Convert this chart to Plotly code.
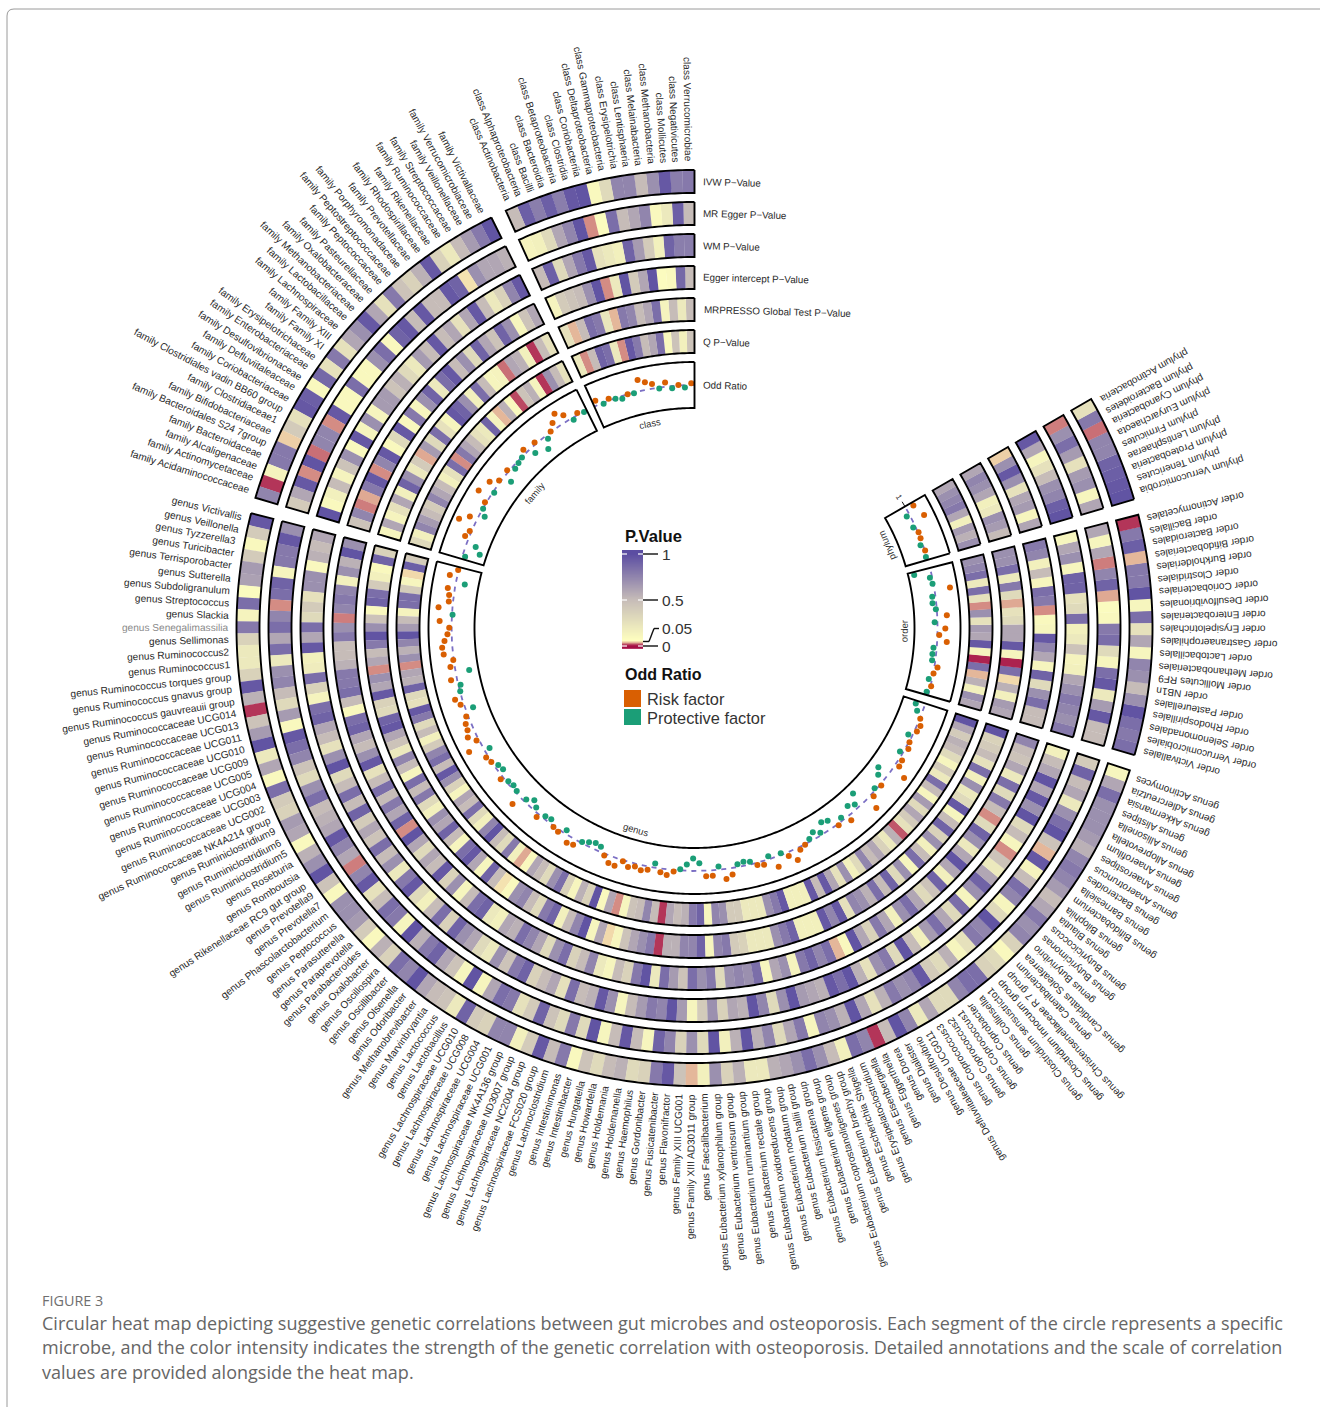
import math
import numpy as np
import plotly.graph_objects as go

W, H = 1320, 1407
CX, CY = 694.5, 628.0
RMAX = 480.0

# ---------- labels ----------
class_names = ["Verrucomicrobiae","Negativicutes","Mollicutes","Methanobacteria","Melainabacteria","Lentisphaeria","Erysipelotrichia","Gammaproteobacteria","Deltaproteobacteria","Coriobacteriia","Clostridia","Betaproteobacteria","Bacteroidia","Bacilli","Alphaproteobacteria","Actinobacteria"]
family_names = ["Victivallaceae","Verrucomicrobiaceae","Veillonellaceae","Streptococcaceae","Ruminococcaceae","Rikenellaceae","Rhodospirillaceae","Prevotellaceae","Porphyromonadaceae","Peptostreptococcaceae","Peptococcaceae","Pasteurellaceae","Oxalobacteraceae","Methanobacteriaceae","Lactobacillaceae","Lachnospiraceae","Family XIII","Family XI","Erysipelotrichaceae","Enterobacteriaceae","Desulfovibrionaceae","Defluviitaleaceae","Coriobacteriaceae","Clostridiales vadin BB60 group","Clostridiaceae1","Bifidobacteriaceae","Bacteroidales S24 7group","Bacteroidaceae","Alcaligenaceae","Actinomycetaceae","Acidaminococcaceae"]
genus_names = ["Victivallis","Veillonella","Tyzzerella3","Turicibacter","Terrisporobacter","Sutterella","Subdoligranulum","Streptococcus","Slackia","Senegalimassilia","Sellimonas","Ruminococcus2","Ruminococcus1","Ruminococcus torques group","Ruminococcus gnavus group","Ruminococcus gauvreauii group","Ruminococcaceae UCG014","Ruminococcaceae UCG013","Ruminococcaceae UCG011","Ruminococcaceae UCG010","Ruminococcaceae UCG009","Ruminococcaceae UCG005","Ruminococcaceae UCG004","Ruminococcaceae UCG003","Ruminococcaceae UCG002","Ruminococcaceae NK4A214 group","Ruminiclostridium9","Ruminiclostridium6","Ruminiclostridium5","Roseburia","Romboutsia","Rikenellaceae RC9 gut group","Prevotella9","Prevotella7","Phascolarctobacterium","Peptococcus","Parasutterella","Paraprevotella","Parabacteroides","Oxalobacter","Oscillospira","Oscillibacter","Olsenella","Odoribacter","Methanobrevibacter","Marvinbryantia","Lactococcus","Lactobacillus","Lachnospiraceae UCG010","Lachnospiraceae UCG008","Lachnospiraceae UCG004","Lachnospiraceae UCG001","Lachnospiraceae NK4A136 group","Lachnospiraceae ND3007 group","Lachnospiraceae NC2004 group","Lachnospiraceae FCS020 group","Lachnoclostridium","Intestinimonas","Intestinibacter","Hungatella","Howardella","Holdemania","Holdemanella","Haemophilus","Gordonibacter","Fusicatenibacter","Flavonifractor","Family XIII UCG001","Family XIII AD3011 group","Faecalibacterium","Eubacterium xylanophilum group","Eubacterium ventriosum group","Eubacterium ruminantium group","Eubacterium rectale group","Eubacterium oxidoreducens group","Eubacterium nodatum group","Eubacterium hallii group","Eubacterium fissicatena group","Eubacterium eligens group","Eubacterium coprostanoligenes group","Eubacterium brachy group","Escherichia Shigella","Erysipelatoclostridium","Eisenbergiella","Eggerthella","Dorea","Dialister","Desulfovibrio","Defluviitaleaceae UCG011","Coprococcus3","Coprococcus2","Coprococcus1","Coprobacter","Collinsella","Clostridium sensustricto1","Clostridium innocuum group","Christensenellaceae R 7 group","Catenibacterium","Candidatus Soleaferrea","Butyrivibrio","Butyricimonas","Butyricicoccus","Blautia","Bilophila","Bifidobacterium","Barnesiella","Bacteroides","Anaerotruncus","Anaerostipes","Anaerofilum","Alloprevotella","Allisonella","Alistipes","Akkermansia","Adlercreutzia","Actinomyces"]
order_names = ["Victivallales","Verrucomicrobiales","Selenomonadales","Rhodospirillales","Pasteurellales","NB1n","Mollicutes RF9","Methanobacteriales","Lactobacillales","Gastranaerophilales","Erysipelotrichales","Enterobacteriales","Desulfovibrionales","Coriobacteriales","Clostridiales","Burkholderiales","Bifidobacteriales","Bacteroidales","Bacillales","Actinomycetales"]
phylum_names = ["Verrucomicrobia","Tenericutes","Proteobacteria","Lentisphaerae","Firmicutes","Euryarchaeota","Cyanobacteria","Bacteroidetes","Actinobacteria"]

# ---------- P values, one list per track and taxon level ----------
ivw_class = [.8,.78,.95,.7,.5,.75,.75,.3,.1,.97,.95,.78,.92,.78,.92,.5]
egger_class = [.5,.92,.2,.1,.75,.6,.5,.85,.08,.026,.97,.75,.6,.3,.15,.13]
wm_class = [.78,.78,.9,.15,.4,.65,.9,.15,.2,.25,.95,.8,.6,.3,.92,.5]
eint_class = [.5,.88,.1,.08,.97,.6,.4,.97,.2,.026,.97,.7,.5,.45,.4,.13]
mrp_class = [.5,.2,.5,.13,.85,.6,.5,.75,.8,.035,.22,.8,.85,.5,.035,.25]
q_class = [.45,.15,.45,.1,.85,.6,.5,.8,.95,.026,.2,.85,.9,.5,.026,.2]

ivw_family = [.97,.8,.65,.5,.2,.35,.95,.55,.35,.45,.8,.25,.6,.95,.7,.6,.25,.8,.25,.88,.1,.92,.95,.25,.4,.04,.8,.8,.13,.008,.75]
egger_family = [.55,.6,.6,.7,.044,.9,.95,.5,.5,.95,.5,.95,.9,.1,.85,.7,.1,.1,.85,.1,.1,.95,.026,.75,.75,.02,.97,.026,.95,.6,.4]
wm_family = [.95,.75,.35,.2,.5,.95,.6,.25,.6,.5,.95,.5,.65,.2,.3,.55,.45,.65,.65,.12,.7,.12,.95,.1,.7,.45,.13,.5,.15,.1,.97]
eint_family = [.6,.45,.12,.7,.9,.45,.6,.9,.3,.7,.5,.95,.85,.2,.9,.7,.12,.8,.1,.95,.3,.1,.95,.75,.026,.95,.8,.032,.023,.75,.45]
mrp_family = [.25,.5,.008,.15,.55,.6,.02,.13,.12,.5,.85,.15,.7,.9,.95,.12,.25,.85,.3,.65,.032,.4,.2,.7,.9,.15,.6,.25,.13,.6,.12]
q_family = [.25,.5,.7,.008,.13,.55,.45,.012,.1,.55,.035,.13,.9,.2,.25,.5,.6,.8,.026,.85,.25,.15,.5,.6,.75,.4,.5,.65,.75,.15,.3]

ivw_genus = [.95,.4,.1,.4,.65,.62,.08,.85,.13,.8,.35,.2,.2,.35,.95,.55,.008,.45,.65,.97,.2,.6,.1,.85,.4,.35,.65,.6,.1,.55,
             .7,.97,.45,.1,.7,.7,.65,.4,.1,.55,.35,.85,.75,.97,.6,.5,.45,.2,.9,.4,.35,.75,.75,.15,.4,.95,.5,.8,.1,.45,
             .3,.5,.55,.3,.35,.8,.95,.45,.035,.15,.7,.35,.55,.2,.2,.55,.6,.7,.85,.7,.5,.15,.85,.75,.008,.5,.97,.75,.2,.6,
             .3,.3,.75,.85,.85,.35,.3,.1,.35,.75,.7,.8,.6,.5,.65,.75,.8,.75,.55,.65,.7,.7,.7,.85,.6,.12]
egger_genus = [.7,.95,.8,.8,.12,.9,.85,.026,.75,.85,.6,.85,.2,.7,.75,.5,.3,.65,.1,.95,.85,.75,.45,.3,.7,.85,.5,.55,.6,.95,
               .75,.6,.023,.75,.95,.25,.5,.85,.8,.12,.97,.55,.8,.9,.6,.45,.12,.97,.12,.6,.85,.8,.25,.4,.9,.45,.3,.8,.3,.97,
               .12,.5,.95,.5,.12,.9,.75,.35,.7,.3,.97,.15,.55,.97,.55,.75,.3,.6,.8,.12,.75,.7,.55,.97,.6,.25,.55,.8,.7,.75,
               .95,.4,.3,.55,.12,.25,.8,.75,.97,.3,.12,.75,.85,.5,.13,.95,.035,.45,.97,.85,.7,.2,.6,.5,.9,.4]
wm_genus = [.6,.5,.55,.1,.7,.7,.25,.4,.3,.85,.6,.95,.15,.18,.85,.35,.13,.85,.9,.6,.5,.25,.7,.97,.3,.5,.85,.5,.9,.4,
            .6,.45,.85,.5,.7,.2,.8,.95,.3,.15,.5,.85,.35,.9,.7,.6,.3,.2,.7,.45,.8,.9,.35,.5,.6,.25,.85,.5,.55,.95,
            .7,.12,.5,.65,.8,.75,.97,.65,.12,.4,.7,.35,.6,.55,.97,.75,.3,.7,.97,.65,.6,.55,.95,.85,.97,.55,.25,.7,.8,.3,
            .97,.5,.15,.65,.85,.6,.3,.85,.12,.7,.9,.6,.2,.45,.026,.12,.5,.3,.97,.7,.95,.6,.97,.6,.5,.15]
eint_genus = [.7,.97,.55,.7,.15,.75,.8,.75,.023,.7,.8,.5,.5,.55,.8,.8,.85,.5,.1,.85,.9,.6,.5,.7,.95,.25,.5,.85,.5,.8,
              .6,.9,.026,.97,.6,.3,.6,.5,.95,.35,.7,.12,.5,.85,.9,.2,.15,.6,.55,.85,.75,.6,.3,.7,.85,.35,.5,.75,.2,.12,
              .5,.35,.8,.97,.2,.85,.65,.45,.85,.7,.8,.3,.7,.75,.7,.85,.12,.6,.7,.13,.8,.9,.75,.85,.035,.1,.97,.6,.35,.8,
              .6,.15,.7,.85,.6,.3,.45,.9,.15,.6,.97,.6,.2,.7,.9,.3,.026,.5,.8,.3,.85,.2,.6,.45,.5,.75]
mrp_genus = [.35,.9,.1,.15,.4,.85,.9,.1,.45,.7,.97,.8,.5,.6,.026,.7,.6,.95,.35,.3,.9,.95,.6,.45,.2,.75,.5,.12,.85,.5,
             .8,.3,.15,.7,.6,.9,.5,.12,.85,.95,.6,.12,.9,.5,.044,.1,.7,.75,.5,.3,.8,.9,.15,.5,.75,.97,.12,.6,.042,.12,
             .45,.6,.7,.8,.008,.55,.55,.75,.75,.9,.12,.75,.8,.4,.35,.2,.2,.2,.7,.8,.9,.15,.15,.15,.95,.75,.95,.25,.75,.7,
             .55,.85,.5,.9,.3,.7,.12,.85,.5,.15,.7,.35,.9,.5,.12,.95,.3,.2,.7,.15,.85,.25,.5,.4,.35,.97]
q_genus = [.4,.92,.042,.12,.4,.85,.85,.13,.5,.65,.97,.75,.55,.7,.026,.6,.55,.9,.3,.25,.95,.8,.3,.5,.15,.4,.75,.85,.5,.95,
           .7,.35,.12,.6,.5,.85,.3,.15,.75,.97,.5,.3,.8,.15,.032,.1,.6,.5,.3,.7,.85,.35,.12,.55,.35,.97,.1,.6,.026,.12,
           .45,.5,.75,.5,.008,.6,.5,.55,.8,.9,.12,.75,.7,.4,.4,.2,.2,.2,.7,.8,.95,.15,.15,.15,.95,.5,.95,.6,.25,.7,
           .15,.3,.75,.5,.6,.35,.2,.55,.015,.25,.4,.6,.3,.65,.12,.5,.85,.2,.4,.12,.3,.5,.55,.4,.6,.97]

ivw_order = [.85,.8,.85,.97,.7,.5,.7,.75,.12,.6,.25,.85,.12,.97,.8,.8,.035,.92,.8,.008]
egger_order = [.5,.5,.95,.65,.2,.95,.85,.12,.3,.85,.8,.1,.08,.032,.9,.75,.023,.6,.12,.6]
wm_order = [.8,.7,.75,.8,.7,.6,.15,.13,.45,.2,.15,.85,.3,.25,.9,.9,.12,.7,.6,.12]
eint_order = [.5,.5,.85,.7,.3,.9,.12,.6,.75,.95,.12,.1,.026,.8,.85,.12,.5,.15,.75,.8]
mrp_order = [.6,.65,.15,.55,.042,.85,.004,.13,.95,.6,.6,.3,.25,.032,.3,.8,.2,.85,.7,.7]
q_order = [.6,.7,.15,.55,.035,.85,.004,.13,.95,.6,.65,.25,.7,.026,.25,.85,.2,.85,.75,.7]

ivw_phylum = [.97,.95,.92,.9,.75,.75,.02,.8,.25]
egger_phylum = [.6,.12,.7,.65,.25,.65,.85,.7,.023]
wm_phylum = [.97,.92,.75,.7,.5,.25,.12,.6,.95]
eint_phylum = [.6,.12,.65,.6,.25,.7,.95,.7,.04]
mrp_phylum = [.5,.65,.7,.2,.15,.6,.7,.75,.6]
q_phylum = [.7,.55,.65,.15,.6,.8,.75,.7,.6]

# ---------- odds ratios ----------
or_class = [1.04,.95,1.01,.95,1.09,.98,1.10,1.17,1.25,.99,1.004,.94,.99,1.04,.98,1.11]
or_family = [.99,1.04,.95,1.15,1.28,1.14,1.01,.92,.74,1.04,.86,1.09,.99,.96,.93,1.04,.82,1.04,1.19,.97,1.28,1.03,.995,.88,1.17,1.36,1.04,1.09,.79,.65,.94]
or_genus = [1.007,1.16,.80,1.15,1.10,1.09,1.30,.985,1.26,1.05,1.09,1.16,1.22,1.20,1.007,1.09,.70,1.13,.95,.993,
            1.15,1.07,.83,1.04,1.11,1.13,1.19,1.05,1.31,.88,1.05,1.007,.92,.89,1.06,.96,.93,.96,1.22,.94,
            .83,.92,1.07,.94,.91,1.02,1.05,.92,1.15,1.12,.97,.91,.86,.89,1.04,1.16,1.17,1.02,1.11,1.06,
            1.11,1.07,.91,1.08,1.12,1.03,.97,.86,.73,.83,1.12,1.12,.93,1.22,1.14,.94,.91,.94,1.05,1.08,
            .93,1.22,.96,1.08,1.24,1.06,1.007,.94,.85,.94,.76,.81,1.03,.93,1.11,.82,.90,.70,1.28,1.06,
            .96,1.03,.83,.73,1.32,1.09,1.07,.93,1.06,1.01,.91,1.05,1.07,1.007,.88,.80]
or_order = [.95,1.015,.93,1.007,1.07,.93,.92,.93,1.21,1.04,1.17,.94,1.21,.98,.92,.93,1.34,.98,.95,.63]
or_phylum = [.98,1.007,.95,1.004,1.015,.95,1.28,.93,1.17]

track_names = ["IVW P\u2212Value","MR Egger P\u2212Value","WM P\u2212Value","Egger intercept P\u2212Value","MRPRESSO Global Test P\u2212Value","Q P\u2212Value"]
caption = ["Circular heat map depicting suggestive genetic correlations between gut microbes and osteoporosis. Each segment of the circle represents a specific",
           "microbe, and the color intensity indicates the strength of the genetic correlation with osteoporosis. Detailed annotations and the scale of correlation",
           "values are provided alongside the heat map."]

# ---------- geometry ----------
levels = [("class", class_names), ("family", family_names), ("genus", genus_names), ("order", order_names), ("phylum", phylum_names)]
GAP = 2.0
STEP = (300 - 4 * GAP) / 192
rings = [(435, 458), (403, 426), (371, 394), (339, 362), (307, 330), (275, 298)]
OR_IN, OR_OUT = 220, 266
OR_MID = 243
OR_SCALE = 46  # px per unit of odds ratio

heat = [ivw_class + ivw_family + ivw_genus + ivw_order + ivw_phylum,
        egger_class + egger_family + egger_genus + egger_order + egger_phylum,
        wm_class + wm_family + wm_genus + wm_order + wm_phylum,
        eint_class + eint_family + eint_genus + eint_order + eint_phylum,
        mrp_class + mrp_family + mrp_genus + mrp_order + mrp_phylum,
        q_class + q_family + q_genus + q_order + q_phylum]
odds = or_class + or_family + or_genus + or_order + or_phylum
assert all(len(h) == 192 for h in heat) and len(odds) == 192

theta, labels, sectors = [], [], []
a = 0.0
for name, names in levels:
    s = a
    for n in names:
        theta.append(a + STEP / 2)
        labels.append(name + " " + n)
        a += STEP
    sectors.append((name, s, a))
    a += GAP

scale = [[0, "#A50F45"], [.05, "#FFFFBF"], [.5, "#C6BCB8"], [1, "#5B4DA2"]]

ARIAL = dict(zip("abcdefghijklmnopqrstuvwxyz", [.556,.556,.5,.556,.556,.278,.556,.556,.222,.222,.5,.222,.833,.556,.556,.556,.556,.333,.5,.278,.556,.5,.722,.5,.5,.5]))
ARIAL.update(zip("ABCDEFGHIJKLMNOPQRSTUVWXYZ", [.667,.667,.722,.722,.667,.611,.778,.722,.278,.5,.667,.556,.833,.722,.778,.667,.778,.722,.667,.611,.722,.667,.944,.667,.667,.611]))
ARIAL.update({" ": .278, "\u2212": .584, ".": .278})
def twidth(s, size):
    return sum(ARIAL.get(c, .556) for c in s) * size

def px(x, y):
    return x / W, 1 - y / H
def polar_px(phi, r):
    t = math.radians(phi)
    return CX - r * math.sin(t), CY - r * math.cos(t)

SANS = "Liberation Sans"
ann = []
def text(x, y, s, size=10, color="#222", angle=0, anchor="center", bold=False, family=SANS):
    xp, yp = px(x, y)
    ann.append(dict(x=xp, y=yp, xref="paper", yref="paper", text=f"<b>{s}</b>" if bold else s, showarrow=False,
                    xanchor=anchor, yanchor="middle", textangle=angle, borderpad=0,
                    font=dict(family=family, size=size, color=color)))

fig = go.Figure()
# heat rings
for (r0, r1), vals in zip(rings, heat):
    fig.add_trace(go.Barpolar(theta=theta, r=[r1 - r0] * 192, base=[r0] * 192, width=[STEP + .03] * 192,
                              marker=dict(color=vals, colorscale=scale, cmin=0, cmax=1, showscale=False, line=dict(width=0)),
                              showlegend=False, hoverinfo="skip"))

# OR reference line, dashed, per sector
lt, lr = [], []
for _, s, e in sectors:
    t = list(np.linspace(s, e, 40))
    lt += t + [None]
    lr += [OR_MID] * 40 + [None]
fig.add_trace(go.Scatterpolar(theta=lt, r=lr, mode="lines", line=dict(color="#7B6FC4", width=1.8, dash="5px,5px"), showlegend=False, hoverinfo="skip"))

# OR dots
or_r = [OR_MID + (v - 1) * OR_SCALE for v in odds]
or_c = ["#D95F02" if v > 1 else "#1B9E77" for v in odds]
fig.add_trace(go.Scatterpolar(theta=theta, r=or_r, mode="markers", marker=dict(color=or_c, size=6, line=dict(width=0)), showlegend=False, hoverinfo="skip"))

# sector outlines
ot, orr = [], []
for r0, r1 in rings + [(OR_IN, OR_OUT)]:
    for _, s, e in sectors:
        t = list(np.linspace(s, e, max(8, int((e - s) * 2))))
        ot += t + t[::-1] + [t[0], None]
        orr += [r1] * len(t) + [r0] * len(t) + [r1, None]
fig.add_trace(go.Scatterpolar(theta=ot, r=orr, mode="lines", line=dict(color="#000", width=1.9), showlegend=False, hoverinfo="skip"))

# axis tick "1" of the OR track
end = sectors[-1][2]
fig.add_trace(go.Scatterpolar(theta=[end, end + 1.3], r=[OR_MID, OR_MID], mode="lines", line=dict(color="#111", width=1), showlegend=False, hoverinfo="skip"))
x, y = polar_px(end + 2.6, OR_MID)
text(x, y, "1", size=8, angle=-end - 90 + 180 - 90)

# radial labels
for phi, s in zip(theta, labels):
    size = 10.1
    w = twidth(s, size)
    x, y = polar_px(phi, 466 + w / 2)
    ang = 90 - phi
    if ang <= -180:
        ang += 360
    text(x, y, s, size=size, angle=ang, color="#8a8a8a" if s.endswith("Senegalimassilia") else "#2a2a2a")

# sector names
for name, s, e in sectors:
    m = (s + e) / 2
    x, y = polar_px(m, 209.5)
    ang = -m if m < 90 else 180 - m
    text(x, y, name, size=9.5, angle=ang, color="#333")

# track names
tilt = 1.5
for nm, (r0, r1) in zip(track_names + ["Odd Ratio"], rings + [(OR_IN, OR_OUT)]):
    w = twidth(nm, 9.8)
    rm = (r0 + r1) / 2
    x = 703 + w / 2
    y = CY - rm + w / 2 * math.sin(math.radians(tilt))
    text(x, y, nm, size=9.8, angle=tilt, color="#2a2a2a")

# legend gradient
ygrid = np.arange(-0.0326, 1.0436, 0.004)
fig.add_trace(go.Heatmap(z=[[float(np.clip(v, 0, 1))] for v in ygrid], x=[0], y=ygrid, colorscale=scale, zmin=0, zmax=1,
                         showscale=False, hoverinfo="skip", xaxis="x", yaxis="y"))

shapes = []
def pline(x0, y0, x1, y1, color="#111", width=1.4):
    a0, b0 = px(x0, y0)
    a1, b1 = px(x1, y1)
    shapes.append(dict(type="line", xref="paper", yref="paper", x0=a0, y0=b0, x1=a1, y1=b1, line=dict(color=color, width=width)))
def prect(x0, y0, x1, y1, color):
    a0, b0 = px(x0, y0)
    a1, b1 = px(x1, y1)
    shapes.append(dict(type="rect", xref="paper", yref="paper", x0=a0, y0=b0, x1=a1, y1=b1, fillcolor=color, line=dict(width=0)))

text(623.5, 536, "P.Value", size=16.6, anchor="left", bold=True, color="#111")
for v, yy, lab in [(1, 554, "1"), (.5, 600, "0.5"), (0, 646, "0")]:
    pline(622, yy, 627, yy, "#fff", 1.2)
    pline(638, yy, 643, yy, "#fff", 1.2)
    pline(643, yy, 658, yy)
    text(660.5, yy, lab, size=15.5, anchor="left", color="#333")
pline(643, 641.5, 649, 641.5)
pline(649, 641.5, 654, 628.5)
pline(654, 628.5, 659, 628.5)
text(660.5, 628, "0.05", size=15.5, anchor="left", color="#333")
text(623.5, 674, "Odd Ratio", size=16, anchor="left", bold=True, color="#111")
prect(624, 690, 641, 707, "#D95F02")
prect(624, 709, 641, 725, "#1B9E77")
text(646, 699, "Risk factor", size=16.4, anchor="left", color="#333")
text(646, 718, "Protective factor", size=16.4, anchor="left", color="#333")

# page frame
f0 = px(7, 1407); f1 = px(7, 16); f2 = px(14, 9); f3 = px(1320, 9); fc = px(7, 9)
shapes.append(dict(type="path", xref="paper", yref="paper", path=f"M {f0[0]} {f0[1]} L {f1[0]} {f1[1]} Q {fc[0]} {fc[1]} {f2[0]} {f2[1]} L {f3[0]} {f3[1]}", line=dict(color="#9a9a9a", width=1)))

# caption
text(41, 1300, "FIGURE 3", size=14.4, anchor="left", color="#6f6f6f", family="Open Sans")
for yy, ln in zip([1323, 1347, 1372], caption):
    text(41, yy, ln, size=18, anchor="left", color="#666", family="Open Sans")

fig.update_layout(
    width=W, height=H, margin=dict(l=0, r=0, t=0, b=0), paper_bgcolor="#fff", plot_bgcolor="#fff", showlegend=False,
    polar=dict(domain=dict(x=[(CX - RMAX) / W, (CX + RMAX) / W], y=[1 - (CY + RMAX) / H, 1 - (CY - RMAX) / H]),
               barmode="overlay", bgcolor="rgba(0,0,0,0)",
               radialaxis=dict(range=[0, RMAX], visible=False),
               angularaxis=dict(direction="counterclockwise", rotation=90, visible=False, thetaunit="degrees")),
    xaxis=dict(domain=[622 / W, 643 / W], visible=False, fixedrange=True),
    yaxis=dict(domain=[1 - 649 / H, 1 - 550 / H], range=[-0.0326, 1.0435], visible=False, fixedrange=True),
    annotations=ann, shapes=shapes,
)
fig.write_html("out.html", config=dict(displayModeBar=False), post_script="document.body.style.margin='0';")
